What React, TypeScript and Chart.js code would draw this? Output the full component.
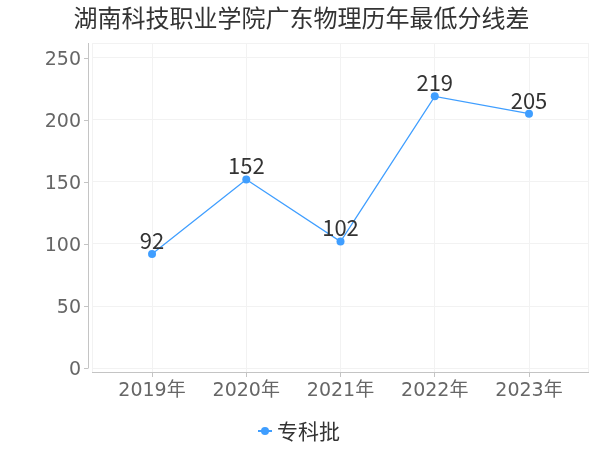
import React, { useEffect, useRef } from "react";
import { Chart, registerables } from "chart.js";

Chart.register(...registerables);

const title = "湖南科技职业学院广东物理历年最低分线差";
const categories = ["2019年", "2020年", "2021年", "2022年", "2023年"];
const seriesName = "专科批";
const values = [92, 152, 102, 219, 205];
const yTicks = [0, 50, 100, 150, 200, 250];

const FONT = "'Noto Sans CJK SC', 'Noto Sans', sans-serif";
const TICK_FONT = "'DejaVu Sans', 'Noto Sans CJK SC', sans-serif";
const LINE_COLOR = "#3f9eff";
const GRID = "#f2f2f2";
const AXIS = "#c4c4c4";
const X_MIN = -0.637;
const X_MAX = 4.626;
const Y_MIN = -3.2;
const Y_MAX = 262;

const overlay = {
  id: "overlay",
  afterDatasetsDraw(chart: any) {
    const ctx = chart.ctx;
    const y = chart.scales.y;
    const area = chart.chartArea;
    ctx.save();
    // y axis line offset from plot area
    const ax = area.left - 4;
    ctx.strokeStyle = AXIS;
    ctx.lineWidth = 1;
    ctx.beginPath();
    ctx.moveTo(ax + 0.5, area.top);
    ctx.lineTo(ax + 0.5, y.getPixelForValue(0));
    ctx.stroke();
    yTicks.forEach((v) => {
      const py = Math.round(y.getPixelForValue(v)) + 0.5;
      ctx.beginPath();
      ctx.moveTo(ax - 4, py);
      ctx.lineTo(ax + 0.5, py);
      ctx.stroke();
    });
    // data labels
    const meta = chart.getDatasetMeta(0);
    ctx.fillStyle = "#333333";
    ctx.font = `22px ${FONT}`;
    ctx.textAlign = "center";
    ctx.textBaseline = "alphabetic";
    meta.data.forEach((pt: any, i: number) => {
      ctx.fillText(String(values[i]), pt.x, pt.y - 5);
    });
    // legend
    const ly = 431;
    ctx.strokeStyle = LINE_COLOR;
    ctx.lineWidth = 2;
    ctx.beginPath();
    ctx.moveTo(258, ly);
    ctx.lineTo(272, ly);
    ctx.stroke();
    ctx.fillStyle = LINE_COLOR;
    ctx.beginPath();
    ctx.arc(265, ly, 4, 0, Math.PI * 2);
    ctx.fill();
    ctx.fillStyle = "#333333";
    ctx.font = `21px ${FONT}`;
    ctx.textAlign = "left";
    ctx.textBaseline = "middle";
    ctx.fillText(seriesName, 277, ly);
    ctx.restore();
  },
};

export default function App() {
  const ref = useRef<HTMLCanvasElement>(null);
  useEffect(() => {
    if (!ref.current) return;
    const chart = new Chart(ref.current, {
      type: "line",
      data: {
        datasets: [
          {
            label: seriesName,
            data: values.map((v, i) => ({ x: i, y: v })),
            borderColor: LINE_COLOR,
            backgroundColor: LINE_COLOR,
            borderWidth: 1.3,
            pointRadius: 4,
            pointHoverRadius: 4,
            pointBackgroundColor: LINE_COLOR,
            pointBorderWidth: 0,
            tension: 0,
          },
        ],
      },
      options: {
        animation: false,
        responsive: true,
        maintainAspectRatio: false,
        layout: { padding: { left: 15, right: 12, top: 0, bottom: 0 } },
        plugins: {
          legend: { display: false },
          tooltip: { enabled: false },
          title: {
            display: true,
            text: title,
            color: "#333333",
            font: { family: FONT, size: 24, weight: "normal" },
            padding: { top: 3, bottom: 11.2 },
          },
        },
        scales: {
          x: {
            type: "linear",
            min: X_MIN,
            max: X_MAX,
            afterFit: (s: any) => {
              s.height = 78;
            },
            afterBuildTicks: (s: any) => {
              s.ticks = [
                { value: X_MIN },
                ...categories.map((_, i) => ({ value: i })),
                { value: X_MAX },
              ];
            },
            grid: {
              color: GRID,
              tickColor: (c: any) =>
                c.tick && Number.isInteger(c.tick.value) ? AXIS : "rgba(0,0,0,0)",
              tickLength: 5,
            },
            border: { display: true, color: AXIS },
            ticks: {
              autoSkip: false,
              maxRotation: 0,
              padding: 3,
              color: "#666666",
              font: { family: TICK_FONT, size: 19 },
              callback: (v: any) =>
                Number.isInteger(v) && categories[v] !== undefined ? categories[v] : "",
            },
          },
          y: {
            type: "linear",
            min: Y_MIN,
            max: Y_MAX,
            afterFit: (s: any) => {
              s.width = 77;
            },
            afterBuildTicks: (s: any) => {
              s.ticks = [...yTicks.map((v) => ({ value: v })), { value: Y_MAX }];
            },
            grid: { color: GRID, drawTicks: false },
            border: { display: false },
            ticks: {
              padding: 11,
              labelOffset: 2,
              color: "#666666",
              font: { family: TICK_FONT, size: 19 },
              callback: (v: any) => (yTicks.includes(v) ? String(v) : ""),
            },
          },
        },
      },
      plugins: [overlay],
    });
    return () => chart.destroy();
  }, []);
  return (
    <div style={{ position: "fixed", left: 0, top: 0, width: 600, height: 450 }}>
      <canvas ref={ref} />
    </div>
  );
}
